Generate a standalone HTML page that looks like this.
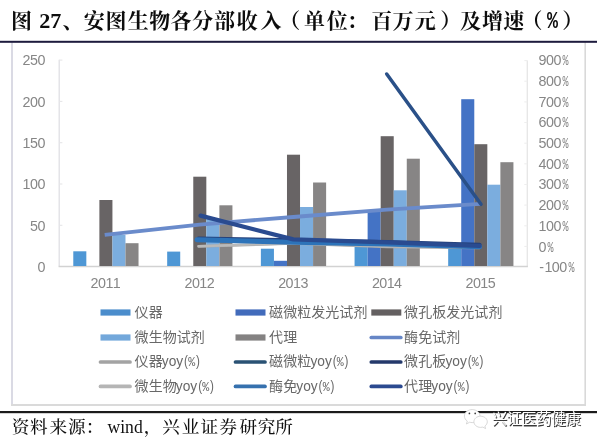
<!DOCTYPE html>
<html lang="zh-CN"><head><meta charset="utf-8"><title>图 27、安图生物各分部收入（单位：百万元）及增速（%）</title>
<style>html,body{margin:0;padding:0;background:#fff;}body{width:600px;height:444px;overflow:hidden;}svg{display:block;}.t{font-family:'Liberation Sans','Noto Sans CJK SC',sans-serif;}.s{font-family:'Liberation Serif','Noto Serif CJK SC',serif;}.m{font-family:"Liberation Mono",monospace;}</style></head><body>
<svg width="600" height="444" viewBox="0 0 600 444">
<rect width="600" height="444" fill="#ffffff"/>
<g fill="none">
<line x1="12" y1="42" x2="12" y2="406" stroke="#d9d9e3" stroke-width="1.9"/>
<line x1="11" y1="405" x2="586" y2="405" stroke="#dadada" stroke-width="2"/>
<line x1="585.2" y1="42" x2="585.2" y2="406" stroke="#d9d9d9" stroke-width="1.6"/>
</g>
<rect x="0" y="40.8" width="597" height="2" fill="#1d1b3d"/>
<rect x="0" y="411" width="597" height="2.2" fill="#1b1b1b"/>
<g stroke="#e0e0e4" stroke-width="1.3" fill="none">
<line x1="59.2" y1="59.8" x2="59.2" y2="266.6"/>
<line x1="527.3" y1="60.4" x2="527.3" y2="266.6" stroke="#e6e6e6"/>
<line x1="58.6" y1="266.6" x2="527.9" y2="266.6" stroke="#d2d2d2" stroke-width="1.5"/>
<line x1="59.2" y1="60.1" x2="62.4" y2="60.1" stroke="#e6e6e8" stroke-width="1.1"/>
<line x1="59.2" y1="101.4" x2="62.4" y2="101.4" stroke="#e6e6e8" stroke-width="1.1"/>
<line x1="59.2" y1="142.7" x2="62.4" y2="142.7" stroke="#e6e6e8" stroke-width="1.1"/>
<line x1="59.2" y1="184.0" x2="62.4" y2="184.0" stroke="#e6e6e8" stroke-width="1.1"/>
<line x1="59.2" y1="225.3" x2="62.4" y2="225.3" stroke="#e6e6e8" stroke-width="1.1"/>
<line x1="524.3" y1="60.6" x2="527.3" y2="60.6" stroke="#eeeeee" stroke-width="1.1"/>
<line x1="524.3" y1="81.2" x2="527.3" y2="81.2" stroke="#eeeeee" stroke-width="1.1"/>
<line x1="524.3" y1="101.9" x2="527.3" y2="101.9" stroke="#eeeeee" stroke-width="1.1"/>
<line x1="524.3" y1="122.5" x2="527.3" y2="122.5" stroke="#eeeeee" stroke-width="1.1"/>
<line x1="524.3" y1="143.2" x2="527.3" y2="143.2" stroke="#eeeeee" stroke-width="1.1"/>
<line x1="524.3" y1="163.8" x2="527.3" y2="163.8" stroke="#eeeeee" stroke-width="1.1"/>
<line x1="524.3" y1="184.5" x2="527.3" y2="184.5" stroke="#eeeeee" stroke-width="1.1"/>
<line x1="524.3" y1="205.1" x2="527.3" y2="205.1" stroke="#eeeeee" stroke-width="1.1"/>
<line x1="524.3" y1="225.8" x2="527.3" y2="225.8" stroke="#eeeeee" stroke-width="1.1"/>
<line x1="524.3" y1="246.4" x2="527.3" y2="246.4" stroke="#eeeeee" stroke-width="1.1"/>
</g>
<g shape-rendering="auto">
<rect x="73.28" y="251.30" width="13.05" height="14.70" fill="#4e97d5"/>
<rect x="99.38" y="200.00" width="13.05" height="66.00" fill="#686465"/>
<rect x="112.43" y="234.90" width="13.05" height="31.10" fill="#7badde"/>
<rect x="125.48" y="243.20" width="13.05" height="22.80" fill="#878585"/>
<rect x="167.17" y="251.60" width="13.05" height="14.40" fill="#4e97d5"/>
<rect x="193.27" y="176.70" width="13.05" height="89.30" fill="#686465"/>
<rect x="206.32" y="218.50" width="13.05" height="47.50" fill="#7badde"/>
<rect x="219.38" y="205.30" width="13.05" height="60.70" fill="#878585"/>
<rect x="260.88" y="248.70" width="13.05" height="17.30" fill="#4e97d5"/>
<rect x="273.93" y="260.80" width="13.05" height="5.20" fill="#4473c5"/>
<rect x="286.98" y="154.70" width="13.05" height="111.30" fill="#686465"/>
<rect x="300.02" y="207.00" width="13.05" height="59.00" fill="#7badde"/>
<rect x="313.07" y="182.50" width="13.05" height="83.50" fill="#878585"/>
<rect x="354.57" y="247.00" width="13.05" height="19.00" fill="#4e97d5"/>
<rect x="367.62" y="211.70" width="13.05" height="54.30" fill="#4473c5"/>
<rect x="380.68" y="136.20" width="13.05" height="129.80" fill="#686465"/>
<rect x="393.73" y="190.30" width="13.05" height="75.70" fill="#7badde"/>
<rect x="406.77" y="158.70" width="13.05" height="107.30" fill="#878585"/>
<rect x="448.18" y="247.00" width="13.05" height="19.00" fill="#4e97d5"/>
<rect x="461.23" y="99.20" width="13.05" height="166.80" fill="#4473c5"/>
<rect x="474.28" y="144.20" width="13.05" height="121.80" fill="#686465"/>
<rect x="487.33" y="184.70" width="13.05" height="81.30" fill="#7badde"/>
<rect x="500.38" y="162.20" width="13.05" height="103.80" fill="#878585"/>
</g>
<polyline points="104.7,234.8 199.6,224.6 293.3,217.0 387.0,209.6 480.6,203.8" fill="none" stroke="#6a8bcb" stroke-width="3.8" stroke-linecap="butt" stroke-linejoin="round"/>
<polyline points="198.6,246.4 293.3,243.4 387.0,246.8 479.6,247.8" fill="none" stroke="#a9a9a9" stroke-width="2.8" stroke-linecap="round" stroke-linejoin="round"/>
<polyline points="198.6,246.2 293.3,243.2 387.0,246.4 479.6,247.6" fill="none" stroke="#b9b9b9" stroke-width="2.4" stroke-linecap="round" stroke-linejoin="round"/>
<polyline points="386.7,74.0 481.0,204.3" fill="none" stroke="#2a5088" stroke-width="3.5" stroke-linecap="round" stroke-linejoin="round"/>
<polyline points="198.5,238.6 293.3,240.2 387.0,241.9 479.6,244.8" fill="none" stroke="#25427c" stroke-width="4.0" stroke-linecap="round" stroke-linejoin="round"/>
<polyline points="197.0,239.7 293.3,242.2 387.0,244.0 479.6,246.8" fill="none" stroke="#2d73b9" stroke-width="5.0" stroke-linecap="round" stroke-linejoin="round"/>
<polyline points="200.5,215.6 293.3,239.4 387.0,242.4 479.6,246.0" fill="none" stroke="#2a4b90" stroke-width="4.2" stroke-linecap="round" stroke-linejoin="round"/>
<text class="t" y="65.2" font-size="14.3" fill="#868686"><tspan x="22.60 30.00 37.40">250</tspan></text>
<text class="t" y="106.6" font-size="14.3" fill="#868686"><tspan x="22.60 30.00 37.40">200</tspan></text>
<text class="t" y="148.0" font-size="14.3" fill="#868686"><tspan x="22.60 30.00 37.40">150</tspan></text>
<text class="t" y="189.4" font-size="14.3" fill="#868686"><tspan x="22.60 30.00 37.40">100</tspan></text>
<text class="t" y="230.8" font-size="14.3" fill="#868686"><tspan x="30.00 37.40">50</tspan></text>
<text class="t" y="272.2" font-size="14.3" fill="#868686"><tspan x="37.40">0</tspan></text>
<text class="t" y="65.2" font-size="14.3" fill="#868686"><tspan x="538.50 545.95 553.40">900</tspan><tspan class="m" x="562.5" textLength="6.0" lengthAdjust="spacingAndGlyphs">%</tspan></text>
<text class="t" y="85.9" font-size="14.3" fill="#868686"><tspan x="538.50 545.95 553.40">800</tspan><tspan class="m" x="562.5" textLength="6.0" lengthAdjust="spacingAndGlyphs">%</tspan></text>
<text class="t" y="106.6" font-size="14.3" fill="#868686"><tspan x="538.50 545.95 553.40">700</tspan><tspan class="m" x="562.5" textLength="6.0" lengthAdjust="spacingAndGlyphs">%</tspan></text>
<text class="t" y="127.3" font-size="14.3" fill="#868686"><tspan x="538.50 545.95 553.40">600</tspan><tspan class="m" x="562.5" textLength="6.0" lengthAdjust="spacingAndGlyphs">%</tspan></text>
<text class="t" y="148.0" font-size="14.3" fill="#868686"><tspan x="538.50 545.95 553.40">500</tspan><tspan class="m" x="562.5" textLength="6.0" lengthAdjust="spacingAndGlyphs">%</tspan></text>
<text class="t" y="168.7" font-size="14.3" fill="#868686"><tspan x="538.50 545.95 553.40">400</tspan><tspan class="m" x="562.5" textLength="6.0" lengthAdjust="spacingAndGlyphs">%</tspan></text>
<text class="t" y="189.4" font-size="14.3" fill="#868686"><tspan x="538.50 545.95 553.40">300</tspan><tspan class="m" x="562.5" textLength="6.0" lengthAdjust="spacingAndGlyphs">%</tspan></text>
<text class="t" y="210.1" font-size="14.3" fill="#868686"><tspan x="538.50 545.95 553.40">200</tspan><tspan class="m" x="562.5" textLength="6.0" lengthAdjust="spacingAndGlyphs">%</tspan></text>
<text class="t" y="230.8" font-size="14.3" fill="#868686"><tspan x="538.50 545.95 553.40">100</tspan><tspan class="m" x="562.5" textLength="6.0" lengthAdjust="spacingAndGlyphs">%</tspan></text>
<text class="t" y="251.5" font-size="14.3" fill="#868686"><tspan x="538.50">0</tspan><tspan class="m" x="547.6" textLength="6.0" lengthAdjust="spacingAndGlyphs">%</tspan></text>
<text class="t" y="272.2" font-size="14.3" fill="#868686"><tspan x="539.30 544.40 551.85 559.30">-100</tspan><tspan class="m" x="568.6" textLength="6.0" lengthAdjust="spacingAndGlyphs">%</tspan></text>
<text class="t" y="288.0" font-size="14.3" fill="#868686"><tspan x="90.60 98.00 105.40 112.80">2011</tspan></text>
<text class="t" y="288.0" font-size="14.3" fill="#868686"><tspan x="184.50 191.90 199.30 206.70">2012</tspan></text>
<text class="t" y="288.0" font-size="14.3" fill="#868686"><tspan x="278.20 285.60 293.00 300.40">2013</tspan></text>
<text class="t" y="288.0" font-size="14.3" fill="#868686"><tspan x="371.90 379.30 386.70 394.10">2014</tspan></text>
<text class="t" y="288.0" font-size="14.3" fill="#868686"><tspan x="465.50 472.90 480.30 487.70">2015</tspan></text>
<rect x="100.5" y="309.4" width="30" height="6.2" fill="#4b8dcc"/>
<text class="t" x="134.60 148.65" y="316.7" font-size="14.0" fill="#686868">仪器</text>
<rect x="235.5" y="309.4" width="30" height="6.2" fill="#426bbb"/>
<text class="t" x="269.10 283.15 297.20 311.25 325.30 339.35 353.40" y="316.7" font-size="14.0" fill="#686868">磁微粒发光试剂</text>
<rect x="371.3" y="309.4" width="30" height="6.2" fill="#646061"/>
<text class="t" x="404.10 418.15 432.20 446.25 460.30 474.35 488.40" y="316.7" font-size="14.0" fill="#686868">微孔板发光试剂</text>
<rect x="100.5" y="334.4" width="30" height="6.2" fill="#73a8db"/>
<text class="t" x="134.60 148.65 162.70 176.75 190.80" y="341.7" font-size="14.0" fill="#686868">微生物试剂</text>
<rect x="235.5" y="334.4" width="30" height="6.2" fill="#848282"/>
<text class="t" x="269.10 283.15" y="341.7" font-size="14.0" fill="#686868">代理</text>
<line x1="371.3" y1="337.5" x2="400.8" y2="337.5" stroke="#6686c6" stroke-width="3.7" stroke-linecap="round"/>
<text class="t" x="404.10 418.15 432.20 446.25" y="341.7" font-size="14.0" fill="#686868">酶免试剂</text>
<line x1="100.5" y1="362.0" x2="130.0" y2="362.0" stroke="#a3a3a3" stroke-width="3.7" stroke-linecap="round"/>
<text class="t" y="366.2" font-size="14.0" fill="#686868"><tspan x="134.60 148.65">仪器</tspan><tspan x="161.8" font-size="14.6" textLength="21.4" lengthAdjust="spacingAndGlyphs">yoy</tspan><tspan x="184.1" font-size="14.2" textLength="3.9" lengthAdjust="spacingAndGlyphs">(</tspan><tspan class="m" x="188.2" font-size="13.4" textLength="7.0" lengthAdjust="spacingAndGlyphs">%</tspan><tspan class="t" x="195.9" font-size="14.2" textLength="3.9" lengthAdjust="spacingAndGlyphs">)</tspan></text>
<line x1="235.5" y1="362.0" x2="265.0" y2="362.0" stroke="#2a5274" stroke-width="3.7" stroke-linecap="round"/>
<text class="t" y="366.2" font-size="14.0" fill="#686868"><tspan x="269.10 283.15 297.20">磁微粒</tspan><tspan x="310.4" font-size="14.6" textLength="21.4" lengthAdjust="spacingAndGlyphs">yoy</tspan><tspan x="332.7" font-size="14.2" textLength="3.9" lengthAdjust="spacingAndGlyphs">(</tspan><tspan class="m" x="336.8" font-size="13.4" textLength="7.0" lengthAdjust="spacingAndGlyphs">%</tspan><tspan class="t" x="344.5" font-size="14.2" textLength="3.9" lengthAdjust="spacingAndGlyphs">)</tspan></text>
<line x1="371.3" y1="362.0" x2="400.8" y2="362.0" stroke="#24396b" stroke-width="3.7" stroke-linecap="round"/>
<text class="t" y="366.2" font-size="14.0" fill="#686868"><tspan x="404.10 418.15 432.20">微孔板</tspan><tspan x="445.4" font-size="14.6" textLength="21.4" lengthAdjust="spacingAndGlyphs">yoy</tspan><tspan x="467.7" font-size="14.2" textLength="3.9" lengthAdjust="spacingAndGlyphs">(</tspan><tspan class="m" x="471.8" font-size="13.4" textLength="7.0" lengthAdjust="spacingAndGlyphs">%</tspan><tspan class="t" x="479.5" font-size="14.2" textLength="3.9" lengthAdjust="spacingAndGlyphs">)</tspan></text>
<line x1="100.5" y1="386.4" x2="130.0" y2="386.4" stroke="#b5b5b5" stroke-width="3.7" stroke-linecap="round"/>
<text class="t" y="390.6" font-size="14.0" fill="#686868"><tspan x="134.60 148.65 162.70">微生物</tspan><tspan x="175.8" font-size="14.6" textLength="21.4" lengthAdjust="spacingAndGlyphs">yoy</tspan><tspan x="198.2" font-size="14.2" textLength="3.9" lengthAdjust="spacingAndGlyphs">(</tspan><tspan class="m" x="202.2" font-size="13.4" textLength="7.0" lengthAdjust="spacingAndGlyphs">%</tspan><tspan class="t" x="209.9" font-size="14.2" textLength="3.9" lengthAdjust="spacingAndGlyphs">)</tspan></text>
<line x1="235.5" y1="386.4" x2="265.0" y2="386.4" stroke="#3671ae" stroke-width="3.7" stroke-linecap="round"/>
<text class="t" y="390.6" font-size="14.0" fill="#686868"><tspan x="269.10 283.15">酶免</tspan><tspan x="296.3" font-size="14.6" textLength="21.4" lengthAdjust="spacingAndGlyphs">yoy</tspan><tspan x="318.6" font-size="14.2" textLength="3.9" lengthAdjust="spacingAndGlyphs">(</tspan><tspan class="m" x="322.7" font-size="13.4" textLength="7.0" lengthAdjust="spacingAndGlyphs">%</tspan><tspan class="t" x="330.4" font-size="14.2" textLength="3.9" lengthAdjust="spacingAndGlyphs">)</tspan></text>
<line x1="371.3" y1="386.4" x2="400.8" y2="386.4" stroke="#2b4a90" stroke-width="3.7" stroke-linecap="round"/>
<text class="t" y="390.6" font-size="14.0" fill="#686868"><tspan x="404.10 418.15">代理</tspan><tspan x="431.3" font-size="14.6" textLength="21.4" lengthAdjust="spacingAndGlyphs">yoy</tspan><tspan x="453.6" font-size="14.2" textLength="3.9" lengthAdjust="spacingAndGlyphs">(</tspan><tspan class="m" x="457.7" font-size="13.4" textLength="7.0" lengthAdjust="spacingAndGlyphs">%</tspan><tspan class="t" x="465.4" font-size="14.2" textLength="3.9" lengthAdjust="spacingAndGlyphs">)</tspan></text>
<text class="s" font-size="21.0" font-weight="700" fill="#0d0d0d" y="27.7"><tspan x="11.12">图</tspan> <tspan x="39.2" font-size="22" textLength="22.2" lengthAdjust="spacingAndGlyphs">27</tspan><tspan x="62.47 83.72 105.38 127.75 149.25 170.62 191.88 214.12 236.75 260.48 279.23 304.10 326.73 346.82 371.25 392.62 414.85 440.32 459.98 482.10 503.35 521.58">、安图生物各分部收入（单位：百万元）及增速（</tspan><tspan x="547.0" font-size="23" class="m" textLength="11.0" lengthAdjust="spacingAndGlyphs">%</tspan><tspan x="562.33">）</tspan></text>
<g>
<text class="s" font-size="17.6" font-weight="500" fill="#111" y="433.0"><tspan x="11.82 30.10 49.50 68.12 85.85">资料来源：</tspan><tspan x="143.82 162.22 181.72 200.60 219.57 239.38 257.73 275.32">，兴业证券研究所</tspan></text>
</g>
<text class="s" x="107.5" y="432.7" font-size="18.8" font-weight="400" fill="#111" textLength="35.2" lengthAdjust="spacingAndGlyphs">wind</text>
<g>
<g fill="#ffffff" stroke="#cfcfcf" stroke-width="0.8">
<path d="M472.2 409.6c-4.3 0-7.8 2.9-7.8 6.5 0 2 1.1 3.8 2.9 5l-0.9 2.9 3.3-1.8c0.8 0.2 1.6 0.4 2.5 0.4 4.3 0 7.8-2.9 7.8-6.5s-3.500-6.500-7.800-6.500z"/>
<path d="M480.6 416.2c3.700 0 6.700 2.500 6.700 5.600 0 1.700-0.900 3.200-2.400 4.300l0.700 2.500-2.800-1.500c-0.700 0.200-1.400 0.300-2.200 0.300-3.700 0-6.700-2.500-6.700-5.600s3-5.600 6.700-5.600z"/>
</g>
<g fill="#3c3c3c"><circle cx="469.4" cy="413.4" r="0.85"/><circle cx="475.2" cy="413.4" r="0.85"/></g>
<text class="t" x="492.2 506.9 521.6 536.4 551.1 565.8" y="424.0" font-size="15" font-weight="500" fill="#3a3a3a" transform="translate(0.9,0.9)">兴证医药健康</text>
<text class="t" x="492.2 506.9 521.6 536.4 551.1 565.8" y="424.0" font-size="15" font-weight="400" fill="#ffffff">兴证医药健康</text>
</g>
</svg></body></html>
